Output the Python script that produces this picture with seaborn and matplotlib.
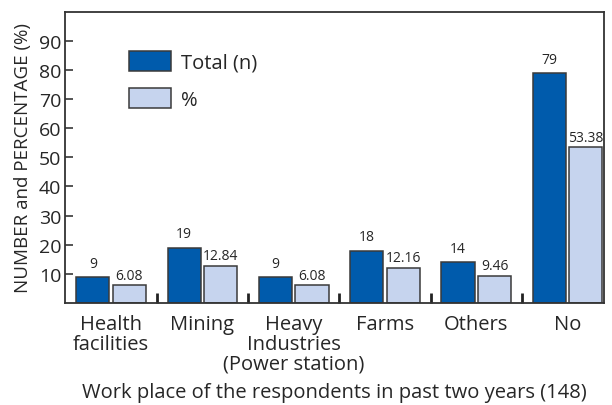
import pandas as pd
import numpy as np
import matplotlib
matplotlib.use('Agg')
import matplotlib.pyplot as plt
import seaborn as sns

sns.set_style('ticks')
plt.rcParams['font.family'] = ['Open Sans', 'DejaVu Sans']

places = ['Health\nfacilities', 'Mining', 'Heavy\nIndustries\n(Power station)',
          'Farms', 'Others', 'No']
total_n = [9, 19, 9, 18, 14, 79]
percent = [6.08, 12.84, 6.08, 12.16, 9.46, 53.38]
series = ['Total (n)', '%']
colors = ['#005BAC', '#C6D4EE']

df = pd.DataFrame({
    'place': places * 2,
    'value': total_n + percent,
    'series': [series[0]] * len(places) + [series[1]] * len(places),
})

fig = plt.figure(figsize=(6.12, 4.06), dpi=100)
ax = fig.add_axes([0.107, 0.251, 0.880, 0.718])

sns.barplot(data=df, x='place', y='value', hue='series', palette=colors,
            width=0.8, gap=0.09, edgecolor='#3a3a3a', linewidth=1.1,
            saturation=1, ax=ax)

# value labels
lab_pad = [4.5, 2.0]
lab_txt = [[str(v) for v in total_n], ['%.2f' % v for v in percent]]
for i, cont in enumerate(ax.containers):
    ax.bar_label(cont, labels=lab_txt[i], padding=lab_pad[i], fontsize=10)

ax.set_ylim(0, 100)
ax.set_xlim(-0.5, 5.4)
ax.set_yticks(range(10, 100, 10))
ax.tick_params(axis='y', direction='in', length=6, width=1.1, labelsize=14, pad=3)
ax.tick_params(axis='x', which='major', length=0, labelsize=14.5, pad=7.5)
for t in ax.get_xticklabels():
    t.set_linespacing(1.0)
ax.set_xticks(np.arange(0.5, 5.0, 1.0), minor=True)
ax.tick_params(axis='x', which='minor', direction='in', length=7, width=2, color='#222222')

for s in ax.spines.values():
    s.set_color('#333333')
    s.set_linewidth(1.3)

ax.set_ylabel('NUMBER and PERCENTAGE (%)', fontsize=13.5, labelpad=5)
ax.set_xlabel('Work place of the respondents in past two years (148)', fontsize=14.5,
              labelpad=6)

leg = ax.legend(loc='upper left', bbox_to_anchor=(0.118, 0.866), frameon=False,
                fontsize=14.5, handlelength=2.08, handleheight=1.19,
                labelspacing=0.75, handletextpad=0.5, borderpad=0, borderaxespad=0)
for h in leg.legend_handles:
    h.set_edgecolor('#3a3a3a')
    h.set_linewidth(1.1)

fig.savefig('out.png', dpi=100)
